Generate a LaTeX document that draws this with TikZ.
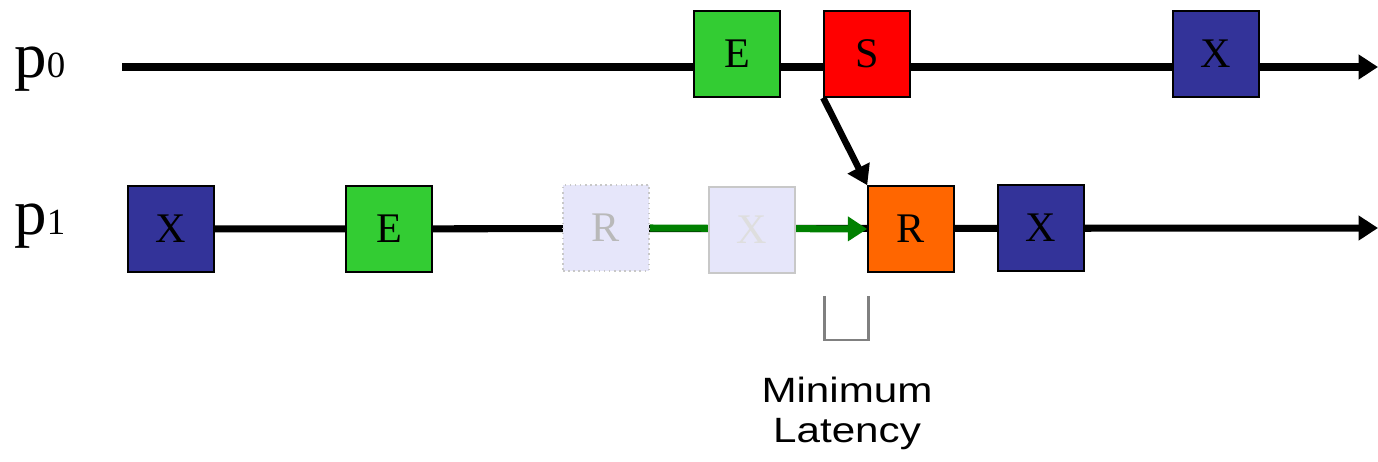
\documentclass[tikz,border=0pt]{standalone}
\usepackage{fontspec}
\setmainfont{Liberation Serif}
\newfontfamily\labelfont[FakeStretch=1.2]{Liberation Sans}
\usetikzlibrary{positioning,arrows.meta,backgrounds}

\definecolor{execgreen}{RGB}{51,204,51}
\definecolor{sendred}{RGB}{255,0,0}
\definecolor{ckblue}{RGB}{51,51,153}
\definecolor{recvorange}{RGB}{255,102,0}
\definecolor{ghostfill}{RGB}{230,230,250}
\definecolor{ghostline}{RGB}{200,200,200}
\definecolor{msggreen}{RGB}{0,128,0}

\tikzset{
	ev/.style={draw=black,line width=0.9pt,minimum size=1.72cm,inner sep=0pt,font=\fontsize{24}{24}\selectfont},
	ghost/.style={ev,fill=ghostfill,draw=ghostline},
	proc/.style={anchor=base west,inner sep=0pt,font=\fontsize{37}{37}\selectfont},
	timeline/.style={line width=4pt,-{Triangle[length=11pt,width=13.5pt]}},
	bracket/.style={draw=gray,line width=1.7pt},
}

\begin{document}
\begin{tikzpicture}[x=0.02cm,y=-0.02cm]
	\useasboundingbox (0,0) rectangle (1378,462);

	% process labels
	\node[proc] (p0) at (14,78) {p{\fontsize{21}{21}\selectfont 0}};
	\node[proc] (p1) at (14,235) {p{\fontsize{21}{21}\selectfont 1}};

	% events of p0
	\node[ev,fill=execgreen] (e0) at (737,54) {E};
	\node[ev,fill=sendred] (s0) at (867,54) {S};
	\node[ev,fill=ckblue] (x0) at (1216,54) {X};

	% events of p1
	\node[ev,fill=ckblue] (x1) at (171,229) {X};
	\node[ev,fill=execgreen] (e1) at (389,229) {E};
	\node[ghost,dotted,text=ghostline!80!gray] (rg) at (606,228) {R};
	\node[ghost,text=ghostline!60] (xg) at (752,230) {X};
	\node[ev,fill=recvorange] (r1) at (911,229) {R};
	\node[ev,fill=ckblue] (x2) at (1041,228) {X};

	\coordinate (p0start) at (122,67);
	\coordinate (p0end) at (1378,67);
	\coordinate (p1end) at (1378,228);

	\begin{scope}[on background layer]
		\draw[timeline] (p0start) -- (p0end);
		\draw[timeline] (x1.center) -- (p1end);
		\draw[timeline,msggreen] (rg.east) -- (r1.west);
	\end{scope}

	% message
	\draw[line width=3.7pt,-{Triangle[length=11pt,width=13.5pt]}] (s0.south west) -- (r1.north west);

	% latency gap
	\draw[bracket] (824,296) -- (824,340) -- (868,340) -- (868,296);
	\node[anchor=base,align=center,inner sep=0pt,font=\labelfont\fontsize{20}{22.7}\selectfont] (minlat) at (847,442) {Minimum\\Latency};
\end{tikzpicture}
\end{document}
